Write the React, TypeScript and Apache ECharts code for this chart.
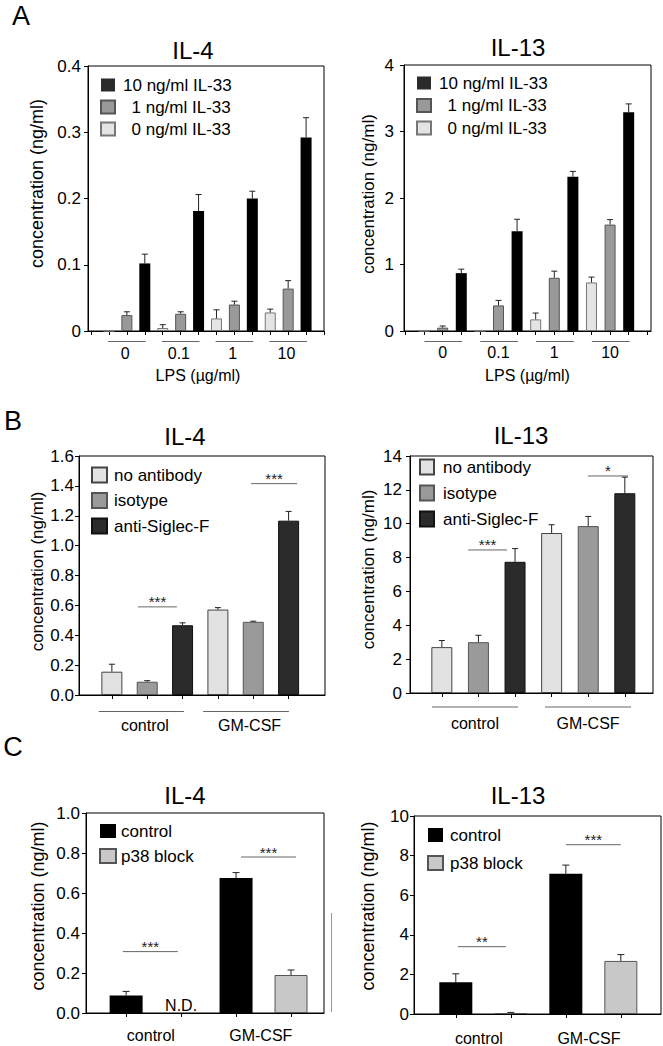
import React, { useEffect, useRef } from "react";
import * as echarts from "echarts";

const FONT = "'Liberation Sans', Arial, Helvetica, sans-serif";

// ---------------- Panel A : LPS x IL-33 ----------------
const lpsGroups = ["0", "0.1", "1", "10"];
const il33Names = ["0 ng/ml IL-33", "1 ng/ml IL-33", "10 ng/ml IL-33"];

const aIL4_0ng = [0, 0.0045, 0.019, 0.028];
const aIL4_0ngErr = [0, 0.005, 0.013, 0.005];
const aIL4_1ng = [0.024, 0.026, 0.04, 0.064];
const aIL4_1ngErr = [0.005, 0.003, 0.005, 0.012];
const aIL4_10ng = [0.102, 0.181, 0.2, 0.292];
const aIL4_10ngErr = [0.014, 0.025, 0.011, 0.03];

const aIL13_0ng = [0, 0, 0.175, 0.73];
const aIL13_0ngErr = [0, 0, 0.095, 0.08];
const aIL13_1ng = [0.05, 0.385, 0.8, 1.6];
const aIL13_1ngErr = [0.025, 0.075, 0.1, 0.075];
const aIL13_10ng = [0.87, 1.5, 2.32, 3.29];
const aIL13_10ngErr = [0.06, 0.18, 0.08, 0.125];

const aIL4YLabels = ["0", "0.1", "0.2", "0.3", "0.4"];
const aIL13YLabels = ["0", "1", "2", "3", "4"];

// ---------------- Panel B : Siglec-F ----------------
const bGroups = ["control", "GM-CSF"];
const antibodyNames = ["no antibody", "isotype", "anti-Siglec-F"];

const bIL4_noAb = [0.156, 0.572];
const bIL4_noAbErr = [0.05, 0.013];
const bIL4_iso = [0.089, 0.49];
const bIL4_isoErr = [0.007, 0.004];
const bIL4_anti = [0.467, 1.167];
const bIL4_antiErr = [0.016, 0.062];

const bIL13_noAb = [2.71, 9.45];
const bIL13_noAbErr = [0.39, 0.49];
const bIL13_iso = [3.0, 9.86];
const bIL13_isoErr = [0.41, 0.57];
const bIL13_anti = [7.75, 11.8];
const bIL13_antiErr = [0.78, 0.95];

const bIL4YLabels = ["0.0", "0.2", "0.4", "0.6", "0.8", "1.0", "1.2", "1.4", "1.6"];
const bIL13YLabels = ["0", "2", "4", "6", "8", "10", "12", "14"];

const bIL4Sig = [
  { from: 0.74, to: 1.84, y: 0.59, label: "***" },
  { from: 3.94, to: 5.24, y: 1.415, label: "***" },
];
const bIL13Sig = [
  { from: 0.72, to: 1.78, y: 8.45, label: "***" },
  { from: 3.99, to: 5.09, y: 12.82, label: "*" },
];
const bIL4Spans = [[-0.37, 2.04], [2.58, 5.01]];
const bIL13Spans = [[-0.27, 2.08], [2.82, 5.17]];

// ---------------- Panel C : p38 block ----------------
const cGroups = ["control", "GM-CSF"];
const treatmentNames = ["control", "p38 block"];

const cIL4_control = [0.088, 0.675];
const cIL4_controlErr = [0.02, 0.027];
const cIL4_p38 = [null, 0.19]; // null = N.D.
const cIL4_p38Err = [0, 0.025];

const cIL13_control = [1.6, 7.08];
const cIL13_controlErr = [0.43, 0.44];
const cIL13_p38 = [0.05, 2.68];
const cIL13_p38Err = [0.03, 0.32];

const cIL4YLabels = ["0.0", "0.2", "0.4", "0.6", "0.8", "1.0"];
const cIL13YLabels = ["0", "2", "4", "6", "8", "10"];

const cIL4Sig = [
  { from: -0.06, to: 0.94, y: 0.307, label: "***" },
  { from: 2.09, to: 3.09, y: 0.78, label: "***" },
];
const cIL13Sig = [
  { from: 0.04, to: 0.91, y: 3.4, label: "**" },
  { from: 2.0, to: 3.0, y: 8.55, label: "***" },
];

// ---------------- helpers ----------------
type BarDef = {
  name: string;
  values: (number | null)[];
  errs: number[];
  color: string;
  border?: string;
};

type PanelDef = {
  grid: { left: number; top: number; width: number; height: number };
  xMin: number;
  xMax: number;
  ticks: number[];
  groupSize: number;
  groupLabels: string[];
  groupLabelPos: number[];
  labelMargin: number;
  xName?: string;
  xNameGap?: number;
  xNamePad?: number[];
  yLabels: string[];
  yInterval: number;
  yLabelMargin: number;
  yNameGap: number;
  yNameSize: number;
  yNameShift: number;
  bars: BarDef[];
  barWidth: number;
  capHalf: number;
  spans?: number[][];
  spanOffset?: number;
  sig?: { from: number; to: number; y: number; label: string }[];
  notes?: { x: number; text: string }[];
  legend: {
    left: number;
    top: number;
    itemWidth: number;
    itemHeight: number;
    itemGap: number;
    data: any[];
    formatter?: (n: string) => string;
    textPad: number;
  };
};

function buildPanel(i: number, p: PanelDef) {
  const yMax = p.yInterval * (p.yLabels.length - 1);
  const xAxis: any = {
    type: "value",
    gridIndex: i,
    min: p.xMin,
    max: p.xMax,
    axisLine: { show: true, onZero: false, lineStyle: { color: "#000", width: 1 } },
    axisTick: { show: true, customValues: p.ticks, length: 4, lineStyle: { color: "#000" } },
    axisLabel: {
      show: true,
      customValues: p.groupLabelPos,
      formatter: (v: number) => {
        const k = p.groupLabelPos.findIndex((q) => Math.abs(q - v) < 1e-6);
        return k >= 0 ? p.groupLabels[k] : "";
      },
      fontSize: 16,
      color: "#000",
      fontFamily: FONT,
      margin: p.labelMargin,
    },
    splitLine: { show: false },
  };
  if (p.xName) {
    xAxis.name = p.xName;
    xAxis.nameLocation = "middle";
    xAxis.nameGap = p.xNameGap;
    xAxis.nameTextStyle = { fontSize: 16, color: "#000", fontFamily: FONT, padding: p.xNamePad || 0 };
  }
  const yAxis: any = {
    type: "value",
    gridIndex: i,
    min: 0,
    max: yMax,
    interval: p.yInterval,
    axisLine: { show: true, onZero: false, lineStyle: { color: "#000", width: 1 } },
    axisTick: { show: true, length: 4, lineStyle: { color: "#000" } },
    axisLabel: {
      formatter: (v: number) => p.yLabels[Math.round(v / p.yInterval)] ?? "",
      fontSize: 17,
      color: "#000",
      fontFamily: FONT,
      margin: p.yLabelMargin,
    },
    splitLine: { show: false },
    name: "concentration (ng/ml)",
    nameLocation: "middle",
    nameRotate: 90,
    nameGap: p.yNameGap,
    nameTextStyle: {
      fontSize: p.yNameSize,
      color: "#000",
      fontFamily: FONT,
      padding: [0, 0, 0, p.yNameShift * 2],
    },
  };

  const series: any[] = [];
  p.bars.forEach((b, k) => {
    series.push({
      type: "bar",
      name: b.name,
      xAxisIndex: i,
      yAxisIndex: i,
      barWidth: p.barWidth,
      barGap: "-100%",
      silent: true,
      data: b.values.map((v, g) => [g * p.groupSize + k, v == null ? "-" : v]),
      itemStyle: { color: b.color, borderColor: b.border || b.color, borderWidth: b.border ? 1 : 0 },
    });
  });

  // error bars
  const errData: number[][] = [];
  p.bars.forEach((b, k) => {
    b.values.forEach((v, g) => {
      if (v != null && b.errs[g] > 0) errData.push([g * p.groupSize + k, v, b.errs[g]]);
    });
  });
  series.push({
    type: "custom",
    xAxisIndex: i,
    yAxisIndex: i,
    clip: false,
    silent: true,
    z: 4,
    encode: { x: 0, y: 1 },
    data: errData,
    renderItem: (params: any, api: any) => {
      const x = api.value(0);
      const y = api.value(1);
      const e = api.value(2);
      const a = api.coord([x, y]);
      const b = api.coord([x, y + e]);
      return {
        type: "group",
        children: [
          { type: "line", shape: { x1: a[0], y1: a[1], x2: b[0], y2: b[1] }, style: { stroke: "#222", lineWidth: 1 } },
          {
            type: "line",
            shape: { x1: b[0] - p.capHalf, y1: b[1], x2: b[0] + p.capHalf, y2: b[1] },
            style: { stroke: "#222", lineWidth: 1 },
          },
        ],
      };
    },
  });

  if (p.spans) {
    series.push({
      type: "custom",
      xAxisIndex: i,
      yAxisIndex: i,
      clip: false,
      silent: true,
      encode: { x: [0, 1], y: 2 },
      data: p.spans.map(([a, b]) => [a, b, 0]),
      renderItem: (params: any, api: any) => {
        const a = api.coord([api.value(0), 0]);
        const b = api.coord([api.value(1), 0]);
        const y = a[1] + (p.spanOffset || 10);
        return { type: "line", shape: { x1: a[0], y1: y, x2: b[0], y2: y }, style: { stroke: "#666", lineWidth: 1 } };
      },
    });
  }

  if (p.sig) {
    const sig = p.sig;
    series.push({
      type: "custom",
      xAxisIndex: i,
      yAxisIndex: i,
      clip: false,
      silent: true,
      encode: { x: [0, 1], y: 2 },
      data: sig.map((s) => [s.from, s.to, s.y]),
      renderItem: (params: any, api: any) => {
        const a = api.coord([api.value(0), api.value(2)]);
        const b = api.coord([api.value(1), api.value(2)]);
        return {
          type: "group",
          children: [
            { type: "line", shape: { x1: a[0], y1: a[1], x2: b[0], y2: b[1] }, style: { stroke: "#666", lineWidth: 1 } },
            {
              type: "text",
              x: (a[0] + b[0]) / 2,
              y: a[1] - 5,
              style: {
                text: sig[params.dataIndex].label,
                fill: "#222",
                fontSize: 15,
                fontFamily: FONT,
                align: "center",
                verticalAlign: "middle",
              },
            },
          ],
        };
      },
    });
  }

  if (p.notes) {
    const notes = p.notes;
    series.push({
      type: "custom",
      xAxisIndex: i,
      yAxisIndex: i,
      clip: false,
      silent: true,
      encode: { x: 0, y: 1 },
      data: notes.map((n) => [n.x, 0]),
      renderItem: (params: any, api: any) => {
        const a = api.coord([api.value(0), 0]);
        return {
          type: "text",
          x: a[0],
          y: a[1] - 8,
          style: {
            text: notes[params.dataIndex].text,
            fill: "#000",
            fontSize: 16,
            fontFamily: FONT,
            align: "center",
            verticalAlign: "middle",
          },
        };
      },
    });
  }

  const legend: any = {
    show: true,
    orient: "vertical",
    left: p.legend.left,
    top: p.legend.top,
    itemWidth: p.legend.itemWidth,
    itemHeight: p.legend.itemHeight,
    itemGap: p.legend.itemGap,
    icon: "rect",
    selectedMode: false,
    padding: 0,
    data: p.legend.data,
    textStyle: {
      fontSize: 17,
      color: "#000",
      fontFamily: FONT,
      lineHeight: 18,
      padding: [0, 0, 0, p.legend.textPad],
    },
  };
  if (p.legend.formatter) legend.formatter = p.legend.formatter;

  const grid = {
    left: p.grid.left,
    top: p.grid.top,
    width: p.grid.width,
    height: p.grid.height,
    show: true,
    borderColor: "#000",
    borderWidth: 1,
    backgroundColor: "transparent",
    containLabel: false,
  };

  return { grid, xAxis, yAxis, series, legend };
}

const il33Legend = [
  { name: il33Names[2], itemStyle: { color: "#2b2b2b", borderColor: "#2b2b2b" } },
  { name: il33Names[1] },
  { name: il33Names[0] },
];
const il33Formatter = (n: string) => (n.startsWith("10") ? n : "\u2002" + n);

const A_IDX = [0, 1, 2, 3];

const panels: PanelDef[] = [
  {
    grid: { left: 88, top: 66, width: 236, height: 265 },
    xMin: -1.17,
    xMax: 12,
    ticks: [-1, 0, 1, 2, 3, 4, 5, 6, 7, 8, 9, 10, 11, 12],
    groupSize: 3,
    groupLabels: lpsGroups,
    groupLabelPos: A_IDX.map((g) => g * 3 + 0.9),
    labelMargin: 14,
    xName: "LPS (\u00b5g/ml)",
    xNameGap: 36,
    xNamePad: [0, 16, 0, 0],
    yLabels: aIL4YLabels,
    yInterval: 0.1,
    yLabelMargin: 7,
    yNameGap: 42,
    yNameSize: 18,
    yNameShift: 15,
    bars: [
      { name: il33Names[0], values: aIL4_0ng, errs: aIL4_0ngErr, color: "#e4e4e4", border: "#777" },
      { name: il33Names[1], values: aIL4_1ng, errs: aIL4_1ngErr, color: "#999", border: "#555" },
      { name: il33Names[2], values: aIL4_10ng, errs: aIL4_10ngErr, color: "#000" },
    ],
    barWidth: 11,
    capHalf: 3,
    spans: A_IDX.map((g) => [g * 3 - 0.05, g * 3 + 2.05]),
    spanOffset: 10.5,
    legend: { left: 100, top: 76, itemWidth: 14, itemHeight: 13, itemGap: 4, data: il33Legend, formatter: il33Formatter, textPad: 3 },
  },
  {
    grid: { left: 404, top: 65, width: 247, height: 266 },
    xMin: -1.08,
    xMax: 12.2,
    ticks: [-1, 0, 1, 2, 3, 4, 5, 6, 7, 8, 9, 10, 11, 12],
    groupSize: 3,
    groupLabels: lpsGroups,
    groupLabelPos: A_IDX.map((g) => g * 3 + 1),
    labelMargin: 13,
    xName: "LPS (\u00b5g/ml)",
    xNameGap: 36,
    yLabels: aIL13YLabels,
    yInterval: 1,
    yLabelMargin: 10,
    yNameGap: 27,
    yNameSize: 17,
    yNameShift: 4,
    bars: [
      { name: il33Names[0], values: aIL13_0ng, errs: aIL13_0ngErr, color: "#e4e4e4", border: "#777" },
      { name: il33Names[1], values: aIL13_1ng, errs: aIL13_1ngErr, color: "#999", border: "#555" },
      { name: il33Names[2], values: aIL13_10ng, errs: aIL13_10ngErr, color: "#000" },
    ],
    barWidth: 11,
    capHalf: 3,
    spans: A_IDX.map((g) => [g * 3 + 0.02, g * 3 + 2.05]),
    spanOffset: 10.5,
    legend: { left: 416, top: 74, itemWidth: 14, itemHeight: 13, itemGap: 4.5, data: il33Legend, formatter: il33Formatter, textPad: 3 },
  },
  {
    grid: { left: 79, top: 456, width: 246, height: 239 },
    xMin: -0.93,
    xMax: 6.03,
    ticks: [0, 1, 2, 3, 4, 5],
    groupSize: 3,
    groupLabels: bGroups,
    groupLabelPos: bIL4Spans.map(([a, b]) => (a + b) / 2 + 0.1),
    labelMargin: 22,
    yLabels: bIL4YLabels,
    yInterval: 0.2,
    yLabelMargin: 5,
    yNameGap: 32,
    yNameSize: 17,
    yNameShift: 4,
    bars: [
      { name: antibodyNames[0], values: bIL4_noAb, errs: bIL4_noAbErr, color: "#e2e2e2", border: "#444" },
      { name: antibodyNames[1], values: bIL4_iso, errs: bIL4_isoErr, color: "#9a9a9a", border: "#555" },
      { name: antibodyNames[2], values: bIL4_anti, errs: bIL4_antiErr, color: "#2b2b2b", border: "#111" },
    ],
    barWidth: 21,
    capHalf: 3,
    spans: bIL4Spans,
    spanOffset: 16.5,
    sig: bIL4Sig,
    legend: {
      left: 91,
      top: 466,
      itemWidth: 15,
      itemHeight: 15,
      itemGap: 7.5,
      data: antibodyNames.map((n) => ({ name: n })),
      textPad: 2,
    },
  },
  {
    grid: { left: 410, top: 456, width: 243, height: 237 },
    xMin: -0.87,
    xMax: 5.77,
    ticks: [0, 1, 2, 3, 4, 5],
    groupSize: 3,
    groupLabels: bGroups,
    groupLabelPos: bIL13Spans.map(([a, b]) => (a + b) / 2),
    labelMargin: 22,
    yLabels: bIL13YLabels,
    yInterval: 2,
    yLabelMargin: 8,
    yNameGap: 33,
    yNameSize: 17,
    yNameShift: 5,
    bars: [
      { name: antibodyNames[0], values: bIL13_noAb, errs: bIL13_noAbErr, color: "#e2e2e2", border: "#444" },
      { name: antibodyNames[1], values: bIL13_iso, errs: bIL13_isoErr, color: "#9a9a9a", border: "#555" },
      { name: antibodyNames[2], values: bIL13_anti, errs: bIL13_antiErr, color: "#2b2b2b", border: "#111" },
    ],
    barWidth: 21,
    capHalf: 3,
    spans: bIL13Spans,
    spanOffset: 14,
    sig: bIL13Sig,
    legend: {
      left: 419,
      top: 458,
      itemWidth: 14,
      itemHeight: 15,
      itemGap: 8,
      data: antibodyNames.map((n) => ({ name: n })),
      textPad: 4,
    },
  },
  {
    grid: { left: 86, top: 813, width: 238, height: 200 },
    xMin: -0.73,
    xMax: 3.6,
    ticks: [0, 1, 2, 3],
    groupSize: 2,
    groupLabels: cGroups,
    groupLabelPos: [0, 1].map((g) => g * 2 + 0.45),
    labelMargin: 14,
    yLabels: cIL4YLabels,
    yInterval: 0.2,
    yLabelMargin: 6,
    yNameGap: 39,
    yNameSize: 18,
    yNameShift: 7,
    bars: [
      { name: treatmentNames[0], values: cIL4_control, errs: cIL4_controlErr, color: "#000" },
      { name: treatmentNames[1], values: cIL4_p38, errs: cIL4_p38Err, color: "#c8c8c8", border: "#555" },
    ],
    barWidth: 33,
    capHalf: 3.5,
    sig: cIL4Sig,
    notes: [{ x: 1, text: "N.D." }],
    legend: {
      left: 99,
      top: 822,
      itemWidth: 16,
      itemHeight: 14,
      itemGap: 7,
      data: treatmentNames.map((n) => ({ name: n })),
      textPad: 0,
    },
  },
  {
    grid: { left: 414, top: 816, width: 247, height: 200 },
    xMin: -0.76,
    xMax: 3.73,
    ticks: [0, 1, 2, 3],
    groupSize: 2,
    groupLabels: cGroups,
    groupLabelPos: [0, 1].map((g) => g * 2 + 0.42),
    labelMargin: 16,
    yLabels: cIL13YLabels,
    yInterval: 2,
    yLabelMargin: 5,
    yNameGap: 37,
    yNameSize: 18,
    yNameShift: 9,
    bars: [
      { name: treatmentNames[0], values: cIL13_control, errs: cIL13_controlErr, color: "#000" },
      { name: treatmentNames[1], values: cIL13_p38, errs: cIL13_p38Err, color: "#c8c8c8", border: "#555" },
    ],
    barWidth: 33,
    capHalf: 3.5,
    sig: cIL13Sig,
    legend: {
      left: 427,
      top: 826,
      itemWidth: 15,
      itemHeight: 14,
      itemGap: 10,
      data: treatmentNames.map((n) => ({ name: n })),
      textPad: 2,
    },
  },
];

const titles = [
  { text: "IL-4", x: 193, y: 50 },
  { text: "IL-13", x: 518, y: 47 },
  { text: "IL-4", x: 185, y: 436 },
  { text: "IL-13", x: 521, y: 435 },
  { text: "IL-4", x: 185, y: 795 },
  { text: "IL-13", x: 518, y: 795 },
];
const panelLetters = [
  { text: "A", x: 21, y: 16 },
  { text: "B", x: 13, y: 421 },
  { text: "C", x: 13, y: 747 },
];

function buildOption() {
  const built = panels.map((p, i) => buildPanel(i, p));
  const graphic: any[] = [];
  titles.forEach((t) =>
    graphic.push({
      type: "text",
      x: t.x,
      y: t.y,
      silent: true,
      style: { text: t.text, fill: "#000", fontSize: 24, fontFamily: FONT, align: "center", verticalAlign: "middle" },
    })
  );
  panelLetters.forEach((t) =>
    graphic.push({
      type: "text",
      x: t.x,
      y: t.y,
      silent: true,
      style: { text: t.text, fill: "#000", fontSize: 27, fontFamily: FONT, align: "center", verticalAlign: "middle" },
    })
  );
  graphic.push({
    type: "line",
    silent: true,
    shape: { x1: 331.5, y1: 913, x2: 331.5, y2: 1012 },
    style: { stroke: "#999", lineWidth: 1 },
  });
  return {
    animation: false,
    backgroundColor: "#fff",
    textStyle: { fontFamily: FONT },
    grid: built.map((b) => b.grid),
    xAxis: built.map((b) => b.xAxis),
    yAxis: built.map((b) => b.yAxis),
    legend: built.map((b) => b.legend),
    series: built.flatMap((b) => b.series),
    graphic,
  };
}

export default function App() {
  const ref = useRef<HTMLDivElement>(null);
  useEffect(() => {
    if (!ref.current) return;
    const chart = echarts.init(ref.current, undefined, { renderer: "svg" });
    chart.setOption(buildOption() as any);
    return () => chart.dispose();
  }, []);
  return (
    <div
      ref={ref}
      style={{ position: "absolute", left: 0, top: 0, width: 663, height: 1046, background: "#fff" }}
    />
  );
}
